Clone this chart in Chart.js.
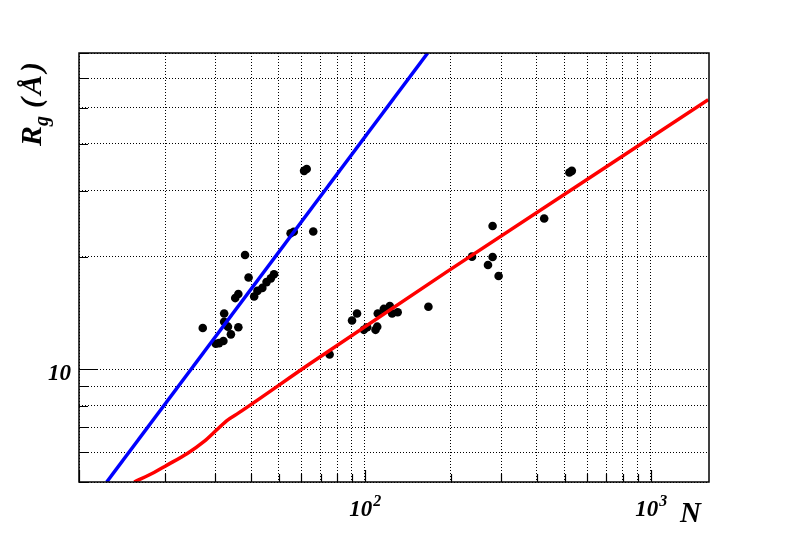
<!DOCTYPE html>
<html>
<head>
<meta charset="utf-8">
<script src="https://cdn.jsdelivr.net/npm/chart.js@4.4.1/dist/chart.umd.min.js"></script>
<style>
  html, body { margin: 0; padding: 0; background: #fff; }
  canvas { display: block; }
</style>
</head>
<body>
<canvas id="rg-chart" width="788" height="536"></canvas>
<script>
// measured points: chain length N vs radius of gyration Rg (Å)
const pointN = [27.1, 30.1, 30.9, 32.0, 32.2, 32.2, 33.2, 34.0, 36.1, 35.2, 36.1, 38.1, 39.2,
  41.0, 42.1, 43.8, 45.3, 46.9, 48.1, 55.0, 56.4, 66.0, 61.3, 62.6,
  75.3, 90.2, 93.9, 99.2, 101.9, 109.0, 110.5, 111.0, 116.5, 122.3, 124.6, 130.3, 166.9,
  237.1, 279.9, 279.9, 269.7, 293.8, 424.1, 519.7, 529.9];
const pointRg = [12.9, 11.7, 11.75, 11.9, 14.1, 13.4, 13.0, 12.4, 12.95, 15.5, 15.9, 20.2, 17.6,
  15.65, 16.2, 16.5, 17.1, 17.5, 17.95, 23.1, 23.3, 23.35, 33.9, 34.3,
  10.95, 13.5, 14.1, 12.75, 12.95, 12.75, 13.0, 14.1, 14.5, 14.75, 14.1, 14.2, 14.7,
  20.0, 24.15, 19.95, 19.0, 17.75, 25.3, 33.55, 33.9];

// blue fit (steep)
const blueN = [12.5, 166];
const blueRg = [5.0, 70.0];

// red fit
const redN = [15.6, 18.3, 20.1, 24.0, 27.4, 30.5, 33.1, 36.3, 64.6, 194, 1590];
const redRg = [5.0, 5.3, 5.52, 5.97, 6.42, 6.92, 7.32, 7.66, 10.38, 18.24, 52.5];

const xTicks = [10, 20, 30, 40, 50, 60, 70, 80, 90, 100, 200, 300, 400, 500, 600, 700, 800, 900, 1000];
const yTicks = [5, 6, 7, 8, 9, 10, 20, 30, 40, 50, 60, 70];
const xMajor = [10, 100, 1000];
const yMajor = [10];

const toXY = (xs, ys) => xs.map((v, i) => ({ x: v, y: ys[i] }));
const serif = '"Liberation Serif", "DejaVu Serif", serif';

const rootFrame = {
  id: 'rootFrame',
  afterDraw(chart) {
    const { ctx, chartArea: a, scales } = chart;
    const xs = scales.x, ys = scales.y;
    ctx.save();
    ctx.strokeStyle = '#000';
    ctx.lineWidth = 1.5;
    ctx.setLineDash([]);
    ctx.strokeRect(a.left, a.top, a.right - a.left, a.bottom - a.top);

    // ticks pointing inward
    ctx.lineWidth = 1.2;
    ctx.beginPath();
    xTicks.forEach(v => {
      const px = Math.round(xs.getPixelForValue(v)) + 0.5;
      const len = xMajor.includes(v) ? 12 : 8;
      ctx.moveTo(px, a.bottom);
      ctx.lineTo(px, a.bottom - len);
    });
    yTicks.forEach(v => {
      const py = Math.round(ys.getPixelForValue(v)) + 0.5;
      const len = yMajor.includes(v) ? 18 : 9;
      ctx.moveTo(a.left, py);
      ctx.lineTo(a.left + len, py);
    });
    ctx.stroke();

    // tick labels
    ctx.fillStyle = '#000';
    ctx.textBaseline = 'alphabetic';
    ctx.font = 'bold italic 23px ' + serif;
    ctx.textAlign = 'right';
    ctx.fillText('10', a.left - 8, ys.getPixelForValue(10) + 11);

    [[100, '2'], [1000, '3']].forEach(([v, e]) => {
      const px = xs.getPixelForValue(v);
      ctx.font = 'bold italic 23px ' + serif;
      const wb = ctx.measureText('10').width;
      ctx.font = 'bold italic 16px ' + serif;
      const we = ctx.measureText(e).width;
      const x0 = px - (wb + we) / 2;
      ctx.textAlign = 'left';
      ctx.font = 'bold italic 23px ' + serif;
      ctx.fillText('10', x0, 516);
      ctx.font = 'bold italic 16px ' + serif;
      ctx.fillText(e, x0 + wb + 1, 506);
    });

    // axis titles
    ctx.textAlign = 'left';
    ctx.font = 'bold italic 29px ' + serif;
    ctx.fillText('N', 680, 522);

    ctx.translate(41, 146);
    ctx.rotate(-Math.PI / 2);
    ctx.font = 'bold italic 30px ' + serif;
    ctx.fillText('R', 0, 0);
    let off = ctx.measureText('R').width;
    ctx.font = 'bold italic 20px ' + serif;
    ctx.fillText('g', off, 7);
    off += ctx.measureText('g').width + 8;
    ctx.font = 'bold italic 30px ' + serif;
    ['(', 'Å', ')'].forEach(ch => {
      ctx.fillText(ch, off, 0);
      off += ctx.measureText(ch).width + 3;
    });
    ctx.restore();
  }
};

const gridOpts = { color: '#000', lineWidth: 1, drawTicks: false };

new Chart(document.getElementById('rg-chart'), {
  type: 'scatter',
  data: {
    datasets: [
      {
        label: 'blue fit',
        type: 'line',
        data: toXY(blueN, blueRg),
        borderColor: '#0000ff',
        borderWidth: 3.5,
        pointRadius: 0,
        tension: 0,
        order: 0
      },
      {
        label: 'red fit',
        type: 'line',
        data: toXY(redN, redRg),
        borderColor: '#ff0000',
        borderWidth: 3.5,
        pointRadius: 0,
        cubicInterpolationMode: 'monotone',
        order: 0
      },
      {
        label: 'data',
        data: toXY(pointN, pointRg),
        backgroundColor: '#000',
        borderColor: '#000',
        pointRadius: 4.3,
        pointBorderWidth: 0,
        order: 1
      }
    ]
  },
  options: {
    responsive: false,
    animation: false,
    devicePixelRatio: 1,
    layout: { padding: { left: 79, right: 79, top: 53, bottom: 54 } },
    plugins: { legend: { display: false }, tooltip: { enabled: false } },
    scales: {
      x: {
        type: 'logarithmic',
        min: 10,
        max: 1600,
        afterBuildTicks: s => { s.ticks = xTicks.map(v => ({ value: v })); },
        afterFit: s => { s.height = 0; },
        ticks: { display: false },
        grid: gridOpts,
        border: { display: false, dash: [1, 2] }
      },
      y: {
        type: 'logarithmic',
        min: 5,
        max: 70,
        afterBuildTicks: s => { s.ticks = yTicks.map(v => ({ value: v })); },
        afterFit: s => { s.width = 0; },
        ticks: { display: false },
        grid: gridOpts,
        border: { display: false, dash: [1, 2] }
      }
    }
  },
  plugins: [rootFrame]
});
</script>
</body>
</html>
